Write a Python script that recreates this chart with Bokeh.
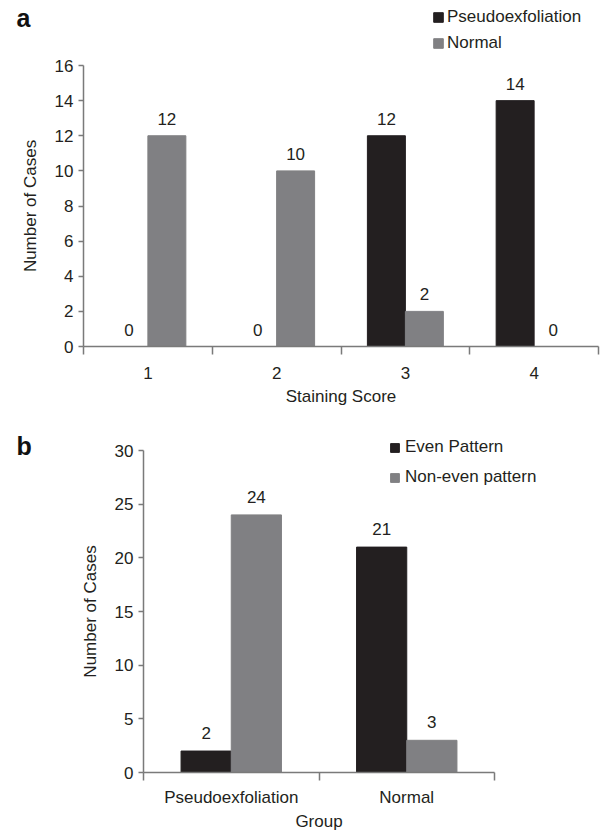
from bokeh.plotting import figure
from bokeh.models import (ColumnDataSource, Range1d, FixedTicker, Legend, LegendItem,
                          Label, GridBox)
from bokeh.transform import dodge
from bokeh.embed import file_html
from bokeh.resources import INLINE
from bokeh.core.properties import value

# ---------------- data ----------------
scores = ["1", "2", "3", "4"]
pseudo_counts = [0, 0, 12, 14]
normal_counts = [12, 10, 2, 0]

groups = ["Pseudoexfoliation", "Normal"]
even_counts = [2, 21]
noneven_counts = [24, 3]

y_ticks_a = [0, 2, 4, 6, 8, 10, 12, 14, 16]
y_ticks_b = [0, 5, 10, 15, 20, 25, 30]

DARK = "#231f20"
GRAY = "#808083"
AXIS = "#7a7a7a"
TXT = "#231f20"
FONT = "Liberation Sans"
FS = "17px"

W = 604
H_A = 409
H_B = 424


def style_axes(p, xlabel, ylabel, yticks, pos, names):
    p.xgrid.grid_line_color = None
    p.ygrid.grid_line_color = None
    p.outline_line_color = None
    p.background_fill_color = "white"
    p.border_fill_color = "white"

    xa = p.xaxis[0]
    bounds = [pos[0] - 0.5] + [x + 0.5 for x in pos]
    xa.ticker = FixedTicker(ticks=pos, minor_ticks=bounds)
    xa.major_label_overrides = {x: n for x, n in zip(pos, names)}
    xa.major_tick_line_color = None
    xa.major_tick_out = 8
    xa.major_tick_in = 0
    xa.minor_tick_line_color = AXIS
    xa.minor_tick_line_width = 1.5
    xa.minor_tick_out = 8
    xa.minor_tick_in = 0
    xa.axis_line_color = AXIS
    xa.axis_line_width = 1.5
    xa.major_label_text_font = FONT
    xa.major_label_text_font_size = FS
    xa.major_label_text_color = TXT
    xa.axis_label = xlabel
    xa.axis_label_text_font = FONT
    xa.axis_label_text_font_size = FS
    xa.axis_label_text_font_style = "normal"
    xa.axis_label_text_color = TXT

    ya = p.yaxis[0]
    ya.ticker = FixedTicker(ticks=yticks, minor_ticks=[])
    ya.major_tick_line_color = AXIS
    ya.major_tick_line_width = 1.5
    ya.major_tick_out = 5
    ya.major_tick_in = 0
    ya.minor_tick_line_color = None
    ya.axis_line_color = AXIS
    ya.axis_line_width = 1.5
    ya.major_label_text_font = FONT
    ya.major_label_text_font_size = FS
    ya.major_label_text_color = TXT
    ya.major_label_standoff = 5
    ya.axis_label = ylabel
    ya.axis_label_text_font = FONT
    ya.axis_label_text_font_size = FS
    ya.axis_label_text_font_style = "normal"
    ya.axis_label_text_color = TXT
    ya.axis_label_standoff = 12


# ---------------- panel a ----------------
pos_a = [i + 1 for i in range(len(scores))]
src_a = ColumnDataSource(dict(
    x=pos_a, pseudo=pseudo_counts, normal=normal_counts,
    pseudo_t=[str(v) for v in pseudo_counts],
    normal_t=[str(v) for v in normal_counts],
))

p1 = figure(width=W, height=H_A, x_range=Range1d(0.5, len(scores) + 0.5),
            y_range=Range1d(0, 16), output_backend="svg", toolbar_location=None,
            min_border_left=83, min_border_right=6, min_border_top=65,
            min_border_bottom=63)
p1.frame_align = False

bw_a = 0.295
p1.vbar(x=dodge("x", -bw_a / 2, range=p1.x_range), top="pseudo", width=bw_a,
        source=src_a, fill_color=DARK, line_color=DARK)
p1.vbar(x=dodge("x", bw_a / 2, range=p1.x_range), top="normal", width=bw_a,
        source=src_a, fill_color=GRAY, line_color=GRAY)
p1.text(x=dodge("x", -bw_a / 2, range=p1.x_range), y="pseudo", text="pseudo_t", source=src_a,
        text_align="center", text_baseline="middle", y_offset=-17,
        text_font=value(FONT), text_font_size=FS, text_color=TXT)
p1.text(x=dodge("x", bw_a / 2, range=p1.x_range), y="normal", text="normal_t", source=src_a,
        text_align="center", text_baseline="middle", y_offset=-17,
        text_font=value(FONT), text_font_size=FS, text_color=TXT)

style_axes(p1, "Staining Score", "Number of Cases", y_ticks_a, pos_a, scores)
p1.xaxis[0].major_label_standoff = 12
p1.xaxis[0].axis_label_standoff = 5

# ---------------- panel b ----------------
pos_b = [i + 1 for i in range(len(groups))]
src_b = ColumnDataSource(dict(
    x=pos_b, even=even_counts, noneven=noneven_counts,
    even_t=[str(v) for v in even_counts],
    noneven_t=[str(v) for v in noneven_counts],
))

p2 = figure(width=W, height=H_B, x_range=Range1d(0.5, len(groups) + 0.5),
            y_range=Range1d(0, 30), output_backend="svg", toolbar_location=None,
            min_border_left=143, min_border_right=110, min_border_top=41,
            min_border_bottom=60)
p2.frame_align = False

bw_b = 0.286
p2.vbar(x=dodge("x", -bw_b / 2, range=p2.x_range), top="even", width=bw_b,
        source=src_b, fill_color=DARK, line_color=DARK)
p2.vbar(x=dodge("x", bw_b / 2, range=p2.x_range), top="noneven", width=bw_b,
        source=src_b, fill_color=GRAY, line_color=GRAY)
p2.text(x=dodge("x", -bw_b / 2, range=p2.x_range), y="even", text="even_t", source=src_b,
        text_align="center", text_baseline="middle", y_offset=-18,
        text_font=value(FONT), text_font_size=FS, text_color=TXT)
p2.text(x=dodge("x", bw_b / 2, range=p2.x_range), y="noneven", text="noneven_t", source=src_b,
        text_align="center", text_baseline="middle", y_offset=-18,
        text_font=value(FONT), text_font_size=FS, text_color=TXT)

style_axes(p2, "Group", "Number of Cases", y_ticks_b, pos_b, groups)
p2.xaxis[0].major_label_standoff = 7
p2.xaxis[0].axis_label_standoff = 2

# ---------------- overlay: legends and panel letters ----------------
HT = H_A + H_B
p3 = figure(width=W, height=HT, x_range=Range1d(0, W), y_range=Range1d(HT, 0),
            output_backend="svg", toolbar_location=None,
            x_axis_location=None, y_axis_location=None,
            min_border=0, min_border_left=0, min_border_right=0,
            min_border_top=0, min_border_bottom=0)
p3.frame_align = False
p3.xgrid.grid_line_color = None
p3.ygrid.grid_line_color = None
p3.outline_line_color = None
p3.background_fill_alpha = 0
p3.border_fill_alpha = 0

# legend swatches: the same series, mapped onto off-canvas ranges so only the
# legend entries show in the overlay
p3.extra_x_ranges = {"swatch_x": Range1d(-20, -19)}
p3.extra_y_ranges = {"swatch_y": Range1d(-20, -19)}
sw = dict(x_range_name="swatch_x", y_range_name="swatch_y")
k_pa = p3.vbar(x="x", top="pseudo", width=bw_a, source=src_a,
               fill_color=DARK, line_color=DARK, **sw)
k_na = p3.vbar(x="x", top="normal", width=bw_a, source=src_a,
               fill_color=GRAY, line_color=GRAY, **sw)
k_eb = p3.vbar(x="x", top="even", width=bw_b, source=src_b,
               fill_color=DARK, line_color=DARK, **sw)
k_nb = p3.vbar(x="x", top="noneven", width=bw_b, source=src_b,
               fill_color=GRAY, line_color=GRAY, **sw)


def make_legend(items, loc, g, standoff, spacing):
    return Legend(items=items, location=loc, orientation="vertical",
                  glyph_width=g, glyph_height=g, label_standoff=standoff,
                  label_height=20, spacing=spacing, padding=0, margin=0,
                  border_line_color=None, background_fill_alpha=0,
                  label_text_font=FONT, label_text_font_size=FS, label_text_color=TXT)


leg_a = make_legend([LegendItem(label="Pseudoexfoliation", renderers=[k_pa]),
                     LegendItem(label="Normal", renderers=[k_na])],
                    (432, HT - 53), 12, 3, 6)
leg_b = make_legend([LegendItem(label="Even Pattern", renderers=[k_eb]),
                     LegendItem(label="Non-even pattern", renderers=[k_nb])],
                    (389, HT - 487), 11, 5, 10)
p3.add_layout(leg_a, "center")
p3.add_layout(leg_b, "center")

p3.add_layout(Label(x=16, y=17, text="a", text_font=FONT, text_font_size="25px",
                    text_font_style="bold", text_color="#111111",
                    text_baseline="alphabetic", text_align="left"))
p3.add_layout(Label(x=16, y=445, text="b", text_font=FONT, text_font_size="25px",
                    text_font_style="bold", text_color="#111111",
                    text_baseline="alphabetic", text_align="left"))

layout = GridBox(children=[(p1, 0, 0), (p2, 1, 0), (p3, 0, 0, 2, 1)], spacing=0)
open("out.html", "w").write(file_html(layout, INLINE))
